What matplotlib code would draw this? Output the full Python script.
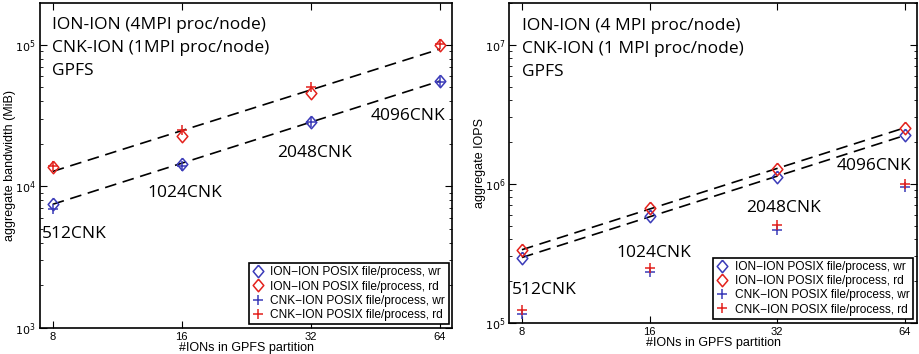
import numpy as np
import matplotlib
matplotlib.use('Agg')
import matplotlib.pyplot as plt
from matplotlib.ticker import FixedLocator, NullFormatter, LogLocator

# number of IONs in the partition
nIONs = [8, 16, 32, 64]
cnkLabels = ['512CNK', '1024CNK', '2048CNK', '4096CNK']

# aggregate bandwidth (MiB)
bw_ion_wr = [7.5e3, 14.5e3, 28.6e3, 55.5e3]
bw_ion_rd = [13.8e3, 22.6e3, 45.8e3, 99.5e3]
bw_cnk_wr = [6.9e3, 14.0e3, 28.4e3, 55.0e3]
bw_cnk_rd = [14.0e3, 25.0e3, 50.5e3, 102e3]

# aggregate IOPS
iops_ion_wr = [2.93e5, 5.85e5, 1.12e6, 2.23e6]
iops_ion_rd = [3.32e5, 6.7e5, 1.27e6, 2.53e6]
iops_cnk_wr = [1.155e5, 2.31e5, 4.68e5, 9.46e5]
iops_cnk_rd = [1.24e5, 2.48e5, 5.03e5, 1.0e6]

legLabels = ['ION\u2212ION POSIX file/process, wr',
             'ION\u2212ION POSIX file/process, rd',
             'CNK\u2212ION POSIX file/process, wr',
             'CNK\u2212ION POSIX file/process, rd']

blue = '#3a3ab8'
red = '#e3211c'
hdrFont = 'Open Sans'
tickFont = 'Liberation Sans'
# matlab style diamond (a bit taller than wide)
diam = [(0, 1), (0.85, 0), (0, -1), (-0.85, 0), (0, 1)]


def fitLine(ax, x, y):
    # power law fit through the ION-ION points
    p = np.polyfit(np.log2(x), np.log10(y), 1)
    xx = np.array([x[0], x[-1]], dtype=float)
    ax.plot(xx, 10**np.polyval(p, np.log2(xx)), 'k--', lw=1.2, dashes=(7, 4), zorder=1)


def makePanel(ax, wr, rd, cwr, crd, ylim, ylab, headers, lblPos, hdrY, ylabX):
    x = np.array(nIONs)
    fitLine(ax, x, rd)
    fitLine(ax, x, wr)
    ax.plot(x, wr, marker=diam, ls='none', mfc='none', mec=blue, ms=9, mew=1.1, label=legLabels[0])
    ax.plot(x, rd, marker=diam, ls='none', mfc='none', mec=red, ms=9, mew=1.1, label=legLabels[1])
    ax.plot(x, cwr, '+', color=blue, ms=7, mew=1.1, label=legLabels[2])
    ax.plot(x, crd, '+', color=red, ms=7, mew=1.1, label=legLabels[3])

    ax.set_xscale('log', base=2)
    ax.set_yscale('log')
    ax.set_xlim(7.47, 68.3)
    ax.set_ylim(ylim)
    ax.xaxis.set_major_locator(FixedLocator(nIONs))
    ax.set_xticklabels([str(n) for n in nIONs], fontfamily=tickFont, fontsize=9)
    ax.xaxis.set_minor_locator(FixedLocator([]))
    ax.yaxis.set_major_locator(LogLocator(base=10))
    ax.yaxis.set_minor_locator(LogLocator(base=10, subs=np.arange(2, 10)))
    ax.yaxis.set_minor_formatter(NullFormatter())
    ax.tick_params(which='both', direction='in', top=True, right=True)
    ax.tick_params(which='major', length=5, labelsize=8, pad=3)
    ax.tick_params(which='minor', length=2.5)
    for s in ax.spines.values():
        s.set_linewidth(1.2)

    ax.set_xlabel('#IONs in GPFS partition', fontfamily=tickFont, fontsize=9, labelpad=0)
    ax.set_ylabel(ylab, fontfamily=tickFont, fontsize=9)
    ax.yaxis.set_label_coords(ylabX, 0.5)

    for t, yy in zip(headers, hdrY):
        ax.text(lblPos[0][0], yy, t, transform=ax.transAxes, fontfamily=hdrFont,
                fontsize=12.5, va='center', ha='left')
    for t, (px, py) in zip(cnkLabels, lblPos[1:]):
        ax.text(px, py, t, transform=ax.transAxes, fontfamily=hdrFont,
                fontsize=12.5, va='center', ha='left')

    leg = ax.legend(loc='lower right', prop={'family': tickFont, 'size': 8.6},
                    fancybox=False, edgecolor='k', framealpha=1,
                    borderaxespad=0.3, handlelength=0.9, handletextpad=0.6,
                    labelspacing=0.18, borderpad=0.3)
    leg.get_frame().set_linewidth(1.2)


fig = plt.figure(figsize=(9.19, 3.54), dpi=100)
ax1 = fig.add_axes([0.0435, 0.0734, 0.4485, 0.9186])
ax2 = fig.add_axes([0.5542, 0.0884, 0.4433, 0.9036])

makePanel(ax1, bw_ion_wr, bw_ion_rd, bw_cnk_wr, bw_cnk_rd, (1e3, 1.98e5),
          'aggregate bandwidth (MiB)',
          ['ION-ION (4MPI proc/node)', 'CNK-ION (1MPI proc/node)', 'GPFS'],
          [(0.029, 0), (0.005, 0.288), (0.26, 0.415), (0.576, 0.538), (0.803, 0.652)],
          [0.931, 0.861, 0.79], -0.058)

makePanel(ax2, iops_ion_wr, iops_ion_rd, iops_cnk_wr, iops_cnk_rd, (1e5, 2e7),
          'aggregate IOPS',
          ['ION-ION (4 MPI proc/node)', 'CNK-ION (1 MPI proc/node)', 'GPFS'],
          [(0.030, 0), (0.007, 0.102), (0.262, 0.218), (0.581, 0.358), (0.803, 0.49)],
          [0.927, 0.855, 0.783], -0.057)

fig.savefig('out.png', dpi=100)
